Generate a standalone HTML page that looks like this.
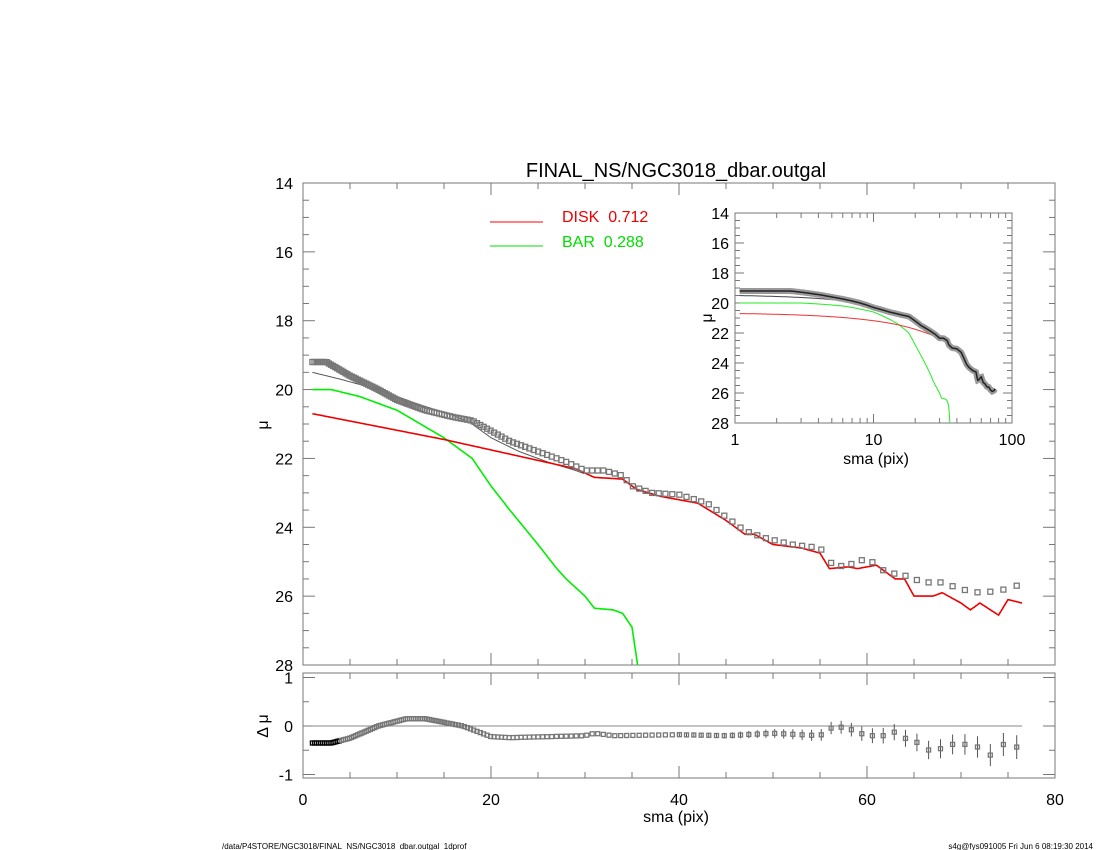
<!DOCTYPE html>
<html><head><meta charset="utf-8"><style>
html,body{margin:0;padding:0;background:#fff;}
svg{display:block;font-family:"Liberation Sans",sans-serif;}
</style></head><body>
<svg id="s" width="1100" height="850" xmlns="http://www.w3.org/2000/svg"></svg>
<script>
const S=document.getElementById('s');let h='';
function interp(t,r){if(r<=t[0][0])return t[0][1];for(let i=1;i<t.length;i++){if(r<=t[i][0]){const a=t[i-1],b=t[i];return a[1]+(b[1]-a[1])*(r-a[0])/(b[0]-a[0]);}}return t[t.length-1][1];}
const DATA=[[1,19.2],[2.5,19.2],[5,19.6],[8,20.0],[10,20.3],[13,20.6],[16,20.8],[18,20.9],[20,21.2],[22,21.5],[25,21.8],[28,22.1],[30,22.35],[32,22.35],[34,22.5],[35,22.8],[37,23.0],[40,23.05],[43,23.3],[45,23.7],[47,24.1],[49,24.3],[52,24.5],[55,24.6],[56.5,25.15],[58,25.1],[60,24.9],[62,25.3],[64,25.4],[66,25.6],[68,25.6],[70,25.8],[72,25.9],[74,25.85],[76.5,25.65]];
const DISK=[[1,20.7],[15,21.45],[29,22.3],[31,22.55],[34,22.6],[35.5,22.9],[38,23.1],[42,23.3],[45,23.8],[47,24.2],[48,24.2],[50,24.5],[53,24.6],[55,24.75],[56,25.2],[58,25.15],[59,25.2],[61,25.1],[63,25.5],[64,25.5],[65,26.0],[67,26.0],[68,25.9],[70,26.2],[71,26.4],[72,26.2],[74,26.55],[75,26.1],[76.5,26.2]];
const BAR=[[1,20.0],[3,20.0],[6,20.2],[10,20.6],[15,21.4],[18,22.0],[20,22.8],[22,23.5],[25,24.5],[27,25.2],[28,25.5],[30,26.0],[31,26.35],[33,26.4],[34,26.5],[35,26.9],[35.6,28.0],[36.5,32]];
const MOD=[[1,19.5],[4,19.7],[8,20.0],[12,20.4],[16,20.75],[18,21.0],[20,21.4],[23,21.8],[26,22.1],[29,22.35],[31,22.55],[34,22.6],[35.5,22.9],[38,23.1],[42,23.3],[45,23.8],[47,24.2],[48,24.2],[50,24.5],[53,24.6],[55,24.75],[56,25.2],[58,25.15],[59,25.2],[61,25.1],[63,25.5],[64,25.5],[65,26.0],[67,26.0],[68,25.9],[70,26.2],[71,26.4],[72,26.2],[74,26.55],[75,26.1],[76.5,26.2]];
const RES=[[1,-0.35],[3,-0.35],[5,-0.25],[8,0],[11,0.15],[13,0.15],[17,0],[20,-0.22],[22,-0.24],[30,-0.2],[31,-0.15],[33,-0.2],[40,-0.18],[45,-0.2],[50,-0.15],[55,-0.2],[56.5,0],[58,-0.05],[60,-0.2],[62,-0.2],[63,-0.12],[64,-0.25],[65,-0.3],[67,-0.55],[68,-0.45],[69,-0.38],[71,-0.38],[72,-0.45],[73.5,-0.65],[75,-0.25],[76.5,-0.55]];
const X0=303,X1=1055,Y0=183,Y1=665;
const mx=r=>X0+(X1-X0)*r/80, my=m=>Y0+(Y1-Y0)*(m-14)/14;
const RT=673,RB=778, ry=v=>726-v*48.5;
let R=[];for(let r=1;r<=76.6;r+=Math.max(0.22,0.019*r))R.push(r);
function line(t,fx,fy,col,w,r0,r1){let p=[];for(let r=r0;r<=r1;r+=0.1){p.push(fx(r).toFixed(1)+','+fy(interp(t,r)).toFixed(1));}return `<polyline points="${p.join(' ')}" fill="none" stroke="${col}" stroke-width="${w}"/>`;}
h+=`<rect x="${X0}" y="${Y0}" width="${X1-X0}" height="${Y1-Y0}" fill="none" stroke="#777" stroke-width="1"/>`;
for(let v=14;v<=28.01;v+=0.5){const y=my(v),L=(Math.abs(v-Math.round(v/2)*2)<0.01)?12:6;h+=`<line x1="${X0}" x2="${X0+L}" y1="${y}" y2="${y}" stroke="#777"/><line x1="${X1}" x2="${X1-L}" y1="${y}" y2="${y}" stroke="#777"/>`;if(L==12)h+=`<text x="${X0-10}" y="${y+6}" font-size="16" text-anchor="end">${v}</text>`;}
for(let v=0;v<=80;v+=5){const x=mx(v),L=v%20==0?12:6;h+=`<line x1="${x}" x2="${x}" y1="${Y0}" y2="${Y0+L}" stroke="#777"/><line x1="${x}" x2="${x}" y1="${Y1}" y2="${Y1-L}" stroke="#777"/><line x1="${x}" x2="${x}" y1="${RT}" y2="${RT+L}" stroke="#777"/><line x1="${x}" x2="${x}" y1="${RB}" y2="${RB-L}" stroke="#777"/>`;if(v%20==0)h+=`<text x="${x}" y="805" font-size="16" text-anchor="middle">${v}</text>`;}
h+=`<rect x="${X0}" y="${RT}" width="${X1-X0}" height="${RB-RT}" fill="none" stroke="#777"/>`;
for(let v=-1;v<=1;v+=0.5){const y=ry(v),L=Number.isInteger(v)?12:6;h+=`<line x1="${X0}" x2="${X0+L}" y1="${y}" y2="${y}" stroke="#777"/><line x1="${X1}" x2="${X1-L}" y1="${y}" y2="${y}" stroke="#777"/>`;if(Number.isInteger(v))h+=`<text x="${X0-10}" y="${y+6}" font-size="16" text-anchor="end">${v}</text>`;}
h+=`<text x="676" y="177" font-size="20" text-anchor="middle">FINAL_NS/NGC3018_dbar.outgal</text>`;
h+=`<text x="676" y="822" font-size="16" text-anchor="middle">sma (pix)</text>`;
h+=`<text transform="translate(268,425) rotate(-90)" font-size="16" text-anchor="middle">μ</text>`;
h+=`<text transform="translate(268,726) rotate(-90)" font-size="16" text-anchor="middle">Δ μ</text>`;
h+=`<line x1="490" x2="543" y1="222" y2="222" stroke="#f00"/><text x="562" y="222" font-size="16" fill="#e00">DISK&#160;&#160;0.712</text>`;
h+=`<line x1="490" x2="543" y1="246" y2="246" stroke="#0d0"/><text x="562" y="247" font-size="16" fill="#0d0">BAR&#160;&#160;0.288</text>`;
h+=`<clipPath id="cm"><rect x="${X0}" y="${Y0}" width="${X1-X0}" height="${Y1-Y0}"/></clipPath><g clip-path="url(#cm)">`;
h+=line(MOD,mx,my,'#555',1,1,30);
h+=line(BAR,mx,my,'#0e0',1.6,1,36.2);
h+=line(DISK,mx,my,'#e00',1.6,1,76.5);
for(const r of R){const x=mx(r),y=my(interp(DATA,r));h+=`<rect x="${(x-2.5).toFixed(1)}" y="${(y-2.5).toFixed(1)}" width="5" height="5" fill="none" stroke="#777" stroke-width="1.3"/>`;}
h+='</g>';
h+=`<line x1="${mx(1)}" x2="${mx(76.5)}" y1="726" y2="726" stroke="#888"/>`;
for(const r of R){const x=mx(r),y=ry(interp(RES,r));const e=r>40?(r-40)*0.006+0.03:0;if(e>0)h+=`<line x1="${x}" x2="${x}" y1="${y-e*48.5}" y2="${y+e*48.5}" stroke="#555"/>`;const c=r<4?'#000':'#777';h+=`<rect x="${(x-2).toFixed(1)}" y="${(y-2).toFixed(1)}" width="4" height="4" fill="none" stroke="${c}" stroke-width="1.3"/>`;}
const IX0=735,IX1=1012,IY0=213,IY1=423;
const ix=r=>IX0+(IX1-IX0)*Math.log10(r)/2, iy=m=>IY0+(IY1-IY0)*(m-14)/14;
h+=`<rect x="${IX0}" y="${IY0}" width="${IX1-IX0}" height="${IY1-IY0}" fill="#fff" stroke="#777"/>`;
for(let v=14;v<=28.01;v+=0.5){const y=iy(v),L=(Math.abs(v-Math.round(v/2)*2)<0.01)?9:5;h+=`<line x1="${IX0}" x2="${IX0+L}" y1="${y}" y2="${y}" stroke="#777"/><line x1="${IX1}" x2="${IX1-L}" y1="${y}" y2="${y}" stroke="#777"/>`;if(L==9)h+=`<text x="${IX0-6}" y="${y+6}" font-size="16" text-anchor="end">${v}</text>`;}
for(let d=1;d<=100;d*=10)for(let k=1;k<10;k++){const v=d*k;if(v>100)break;const x=ix(v),L=k==1?9:5;h+=`<line x1="${x}" x2="${x}" y1="${IY1}" y2="${IY1-L}" stroke="#777"/><line x1="${x}" x2="${x}" y1="${IY0}" y2="${IY0+L}" stroke="#777"/>`;if(k==1)h+=`<text x="${x}" y="445" font-size="16" text-anchor="middle">${v}</text>`;}
h+=`<text x="876" y="464" font-size="16" text-anchor="middle">sma (pix)</text><text transform="translate(712,318) rotate(-90)" font-size="16" text-anchor="middle">μ</text>`;
h+=`<clipPath id="ci"><rect x="${IX0}" y="${IY0}" width="${IX1-IX0}" height="${IY1-IY0}"/></clipPath><g clip-path="url(#ci)">`;
function lline(t,col,w,r1){let p=[];for(let r=1.08;r<=r1;r*=1.01)p.push(ix(r).toFixed(1)+','+iy(interp(t,r)).toFixed(1));return `<polyline points="${p.join(' ')}" fill="none" stroke="${col}" stroke-width="${w}"/>`;}
h+=lline(MOD,'#444',1,30);
h+=lline(BAR,'#2e2',1,36.5);
h+=lline(DISK,'#e33',1,30);
h+=lline(DATA,'#999',6,76);
h+=lline(DATA,'#222',1.5,76);
h+='</g>';
h+=`<text x="222" y="849" font-size="8">/data/P4STORE/NGC3018/FINAL_NS/NGC3018_dbar.outgal_1dprof</text>`;
h+=`<text x="1093" y="849" font-size="8" text-anchor="end">s4g@fys091005  Fri Jun  6 08:19:30 2014</text>`;
S.innerHTML=h;
</script>
</body></html>
